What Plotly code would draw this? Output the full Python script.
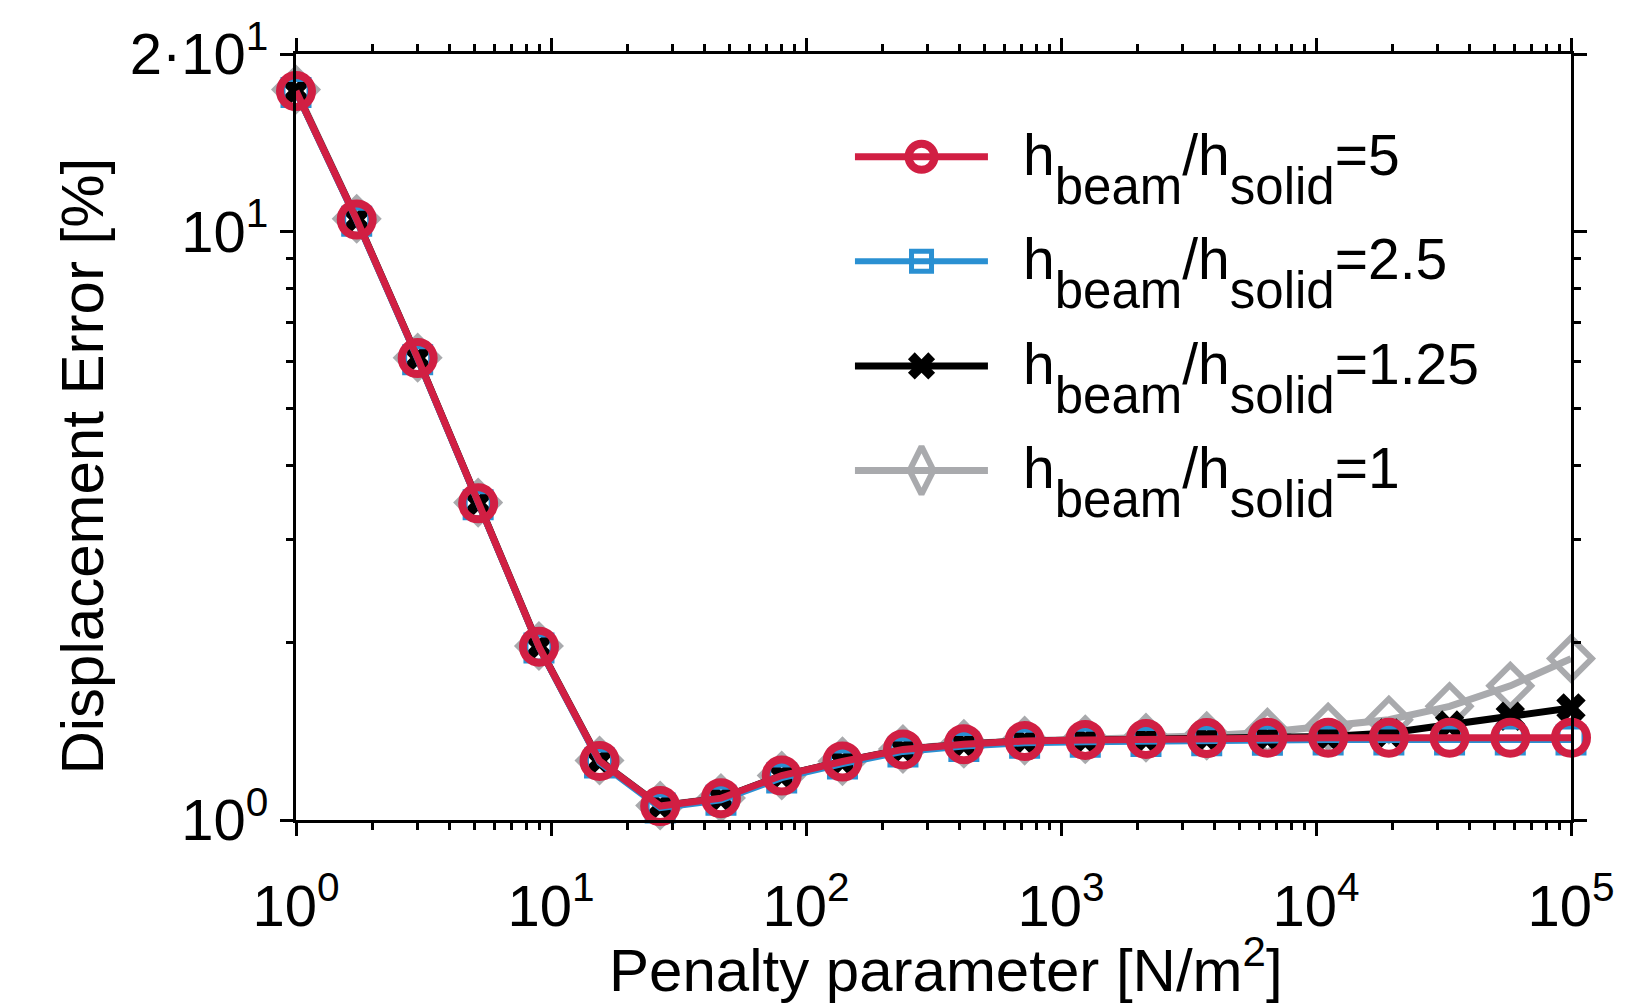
import plotly.graph_objects as go

# ---------------- data ----------------
penalty = [1.0, 1.73, 3.0, 5.18, 8.97, 15.5, 26.8, 46.4, 80.3, 139.0, 240.0, 416.0,
           720.0, 1245.0, 2154.0, 3728.0, 6449.0, 11159.0, 19307.0, 33405.0, 57797.0, 100000.0]

err_h5 = [17.3, 10.47, 6.09, 3.45, 1.97, 1.26, 1.056, 1.089, 1.19, 1.257, 1.318, 1.345,
          1.362, 1.368, 1.373, 1.378, 1.38, 1.38, 1.38, 1.38, 1.38, 1.38]
err_h2_5 = [17.2, 10.4, 6.05, 3.43, 1.96, 1.25, 1.048, 1.08, 1.178, 1.245, 1.305, 1.333,
            1.35, 1.356, 1.36, 1.364, 1.366, 1.367, 1.367, 1.368, 1.368, 1.368]
err_h1_25 = [17.3, 10.47, 6.09, 3.45, 1.97, 1.26, 1.056, 1.089, 1.19, 1.257, 1.318, 1.345,
             1.362, 1.368, 1.373, 1.378, 1.381, 1.386, 1.405, 1.45, 1.50, 1.55]
err_h1 = [17.4, 10.5, 6.1, 3.46, 1.975, 1.262, 1.058, 1.09, 1.19, 1.258, 1.32, 1.347,
          1.364, 1.371, 1.38, 1.39, 1.41, 1.44, 1.48, 1.56, 1.69, 1.88]

series_names = ["5", "2.5", "1.25", "1"]

x_tickvals = [1, 10, 100, 1000, 10000, 100000]
x_ticktext = ["10<sup>0</sup>", "10<sup>1</sup>", "10<sup>2</sup>",
              "10<sup>3</sup>", "10<sup>4</sup>", "10<sup>5</sup>"]
y_tickvals = [1, 10, 20]
y_ticktext = ["10<sup>0</sup>", "10<sup>1</sup>", "2·10<sup>1</sup>"]

x_title = "Penalty parameter [N/m<sup>2</sup>]"
y_title = "Displacement Error [%]"

# ---------------- styles ----------------
RED = "#D11F43"
BLUE = "#2A90D2"
BLACK = "#000000"
GRAY = "#A9AAAD"
FONT = "Liberation Sans, Arial, sans-serif"

x_minor = [m * 10 ** d for d in range(5) for m in range(2, 10)]
y_minor = [2, 3, 4, 5, 6, 7, 8, 9]

fig = go.Figure()

# drawing order: gray (bottom) -> black -> blue -> red (top)
fig.add_trace(go.Scatter(x=penalty, y=err_h1, mode="lines+markers", cliponaxis=False,
                         line=dict(color=GRAY, width=7),
                         marker=dict(symbol="diamond-open", size=32, color=GRAY,
                                     line=dict(width=6, color=GRAY)),
                         showlegend=False))
fig.add_trace(go.Scatter(x=penalty, y=err_h1_25, mode="lines+markers", cliponaxis=False,
                         line=dict(color=BLACK, width=7),
                         marker=dict(symbol="x", size=26, color=BLACK, line=dict(width=0)),
                         showlegend=False))
fig.add_trace(go.Scatter(x=penalty, y=err_h2_5, mode="lines+markers", cliponaxis=False,
                         line=dict(color=BLUE, width=6),
                         marker=dict(symbol="square-open", size=26, color=BLUE,
                                     line=dict(width=5, color=BLUE)),
                         showlegend=False))
fig.add_trace(go.Scatter(x=penalty, y=err_h5, mode="lines+markers", cliponaxis=False,
                         line=dict(color=RED, width=7),
                         marker=dict(symbol="circle-open", size=32, color=RED,
                                     line=dict(width=8, color=RED)),
                         showlegend=False))

# ---------------- custom legend (overlay axes 0..1) ----------------
leg_rows = [0.8658, 0.7294, 0.5928, 0.4563]
leg_x0, leg_xm, leg_x1 = 0.4384, 0.4906, 0.5427
leg_styles = [
    (RED, 7, dict(symbol="circle-open", size=26, color=RED, line=dict(width=8, color=RED))),
    (BLUE, 6, dict(symbol="square-open", size=20, color=BLUE, line=dict(width=5, color=BLUE))),
    (BLACK, 7, dict(symbol="x", size=24, color=BLACK, line=dict(width=0))),
    (GRAY, 7, dict(symbol="diamond-tall-open", size=34, color=GRAY, line=dict(width=6, color=GRAY))),
]
for ry, (col, lw, mk), name in zip(leg_rows, leg_styles, series_names):
    fig.add_trace(go.Scatter(x=[leg_x0, leg_x1], y=[ry, ry], mode="lines",
                             line=dict(color=col, width=lw), xaxis="x2", yaxis="y2",
                             showlegend=False, hoverinfo="skip", cliponaxis=False))
    fig.add_trace(go.Scatter(x=[leg_xm], y=[ry], mode="markers", marker=mk,
                             xaxis="x2", yaxis="y2", showlegend=False,
                             hoverinfo="skip", cliponaxis=False))
    fig.add_annotation(
        x=0.5684, y=ry, xref="x2", yref="y2", xanchor="left", yanchor="middle",
        yshift=-12, showarrow=False,
        text=("h<sub><span style='font-size:51px;baseline-shift:-17px'>beam</span></sub>/h"
              "<sub><span style='font-size:51px;baseline-shift:-17px'>solid</span></sub>=" + name),
        font=dict(family=FONT, size=57, color="black"))

# axis titles as annotations (paper coords relative to plot area)
fig.add_annotation(x=0.5098, y=-0.1906, xref="paper", yref="paper",
                   xanchor="center", yanchor="middle", showarrow=False,
                   text=x_title, font=dict(family=FONT, size=60, color="black"))
fig.add_annotation(x=-0.1682, y=0.4621, xref="paper", yref="paper",
                   xanchor="center", yanchor="middle", showarrow=False, textangle=-90,
                   text=y_title, font=dict(family=FONT, size=60, color="black"))

axis_common = dict(
    showline=True, linewidth=3, linecolor="black", mirror="allticks",
    ticks="outside", ticklen=13, tickwidth=3, tickcolor="black",
    showgrid=False, zeroline=False, automargin=False,
    tickfont=dict(family=FONT, size=58, color="black"),
)

# page body has an 8px margin: figure is sized so it fits the 1639x1008 window
fig.update_layout(
    width=1631, height=1000,
    margin=dict(l=288, r=68, t=46, b=188),
    paper_bgcolor="white", plot_bgcolor="white",
    font=dict(family=FONT, color="black"),
    xaxis=dict(type="log", range=[0, 5], tickmode="array", tickvals=x_tickvals,
               ticktext=x_ticktext, ticklabelstandoff=20,
               minor=dict(tickmode="array", tickvals=x_minor, ticklen=7, tickwidth=3,
                          tickcolor="black", ticks="outside", showgrid=False),
               **axis_common),
    yaxis=dict(type="log", range=[0, 1.30103], tickmode="array", tickvals=y_tickvals,
               ticktext=y_ticktext,
               minor=dict(tickmode="array", tickvals=y_minor, ticklen=7, tickwidth=3,
                          tickcolor="black", ticks="outside", showgrid=False),
               **axis_common),
    xaxis2=dict(overlaying="x", anchor="y2", range=[0, 1], visible=False, fixedrange=True),
    yaxis2=dict(overlaying="y", anchor="x2", range=[0, 1], visible=False, fixedrange=True),
    showlegend=False,
)

fig.write_html("out.html")
